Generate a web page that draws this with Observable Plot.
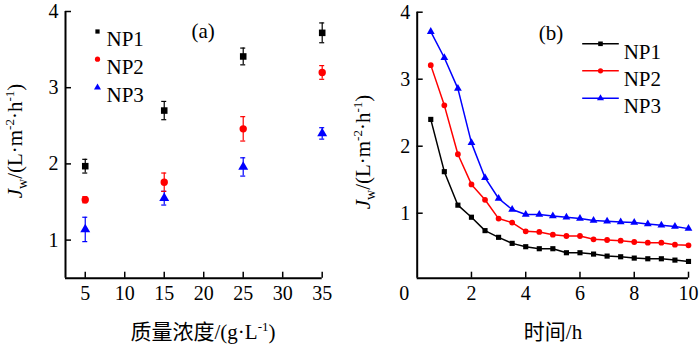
<!DOCTYPE html>
<html>
<head>
<meta charset="utf-8">
<script src="https://cdn.jsdelivr.net/npm/d3@7"></script>
<script src="https://cdn.jsdelivr.net/npm/@observablehq/plot@0.6"></script>
<style>
  body { margin: 0; background: #fff; }
  #wrap { display: flex; width: 700px; height: 345px; }
  #wrap svg { display: block; }
</style>
</head>
<body>
<div id="wrap"></div>
<script>
// ---------- data ----------
const series = ["NP1", "NP2", "NP3"];
const seriesColors = ["#000000", "#ff0000", "#0000ff"];
const seriesSymbols = ["square", "circle", "triangle"];

// panel (a): flux vs mass concentration, with error bars
const concentration = [5, 15, 25, 35];
const fluxA_NP1 = [1.97, 2.70, 3.41, 3.72];
const fluxA_NP2 = [1.53, 1.76, 2.46, 3.20];
const fluxA_NP3 = [1.14, 1.55, 1.96, 2.40];
const errA_NP1 = [0.09, 0.12, 0.11, 0.13];
const errA_NP2 = [0.04, 0.12, 0.16, 0.09];
const errA_NP3 = [0.16, 0.09, 0.12, 0.075];

// panel (b): flux vs time
const time = [0.5, 1, 1.5, 2, 2.5, 3, 3.5, 4, 4.5, 5, 5.5, 6, 6.5, 7, 7.5, 8, 8.5, 9, 9.5, 10];
const fluxB_NP1 = [2.40, 1.62, 1.12, 0.94, 0.74, 0.64, 0.55, 0.50, 0.47, 0.47, 0.41, 0.41, 0.39, 0.36, 0.35, 0.33, 0.32, 0.32, 0.30, 0.28];
const fluxB_NP2 = [3.21, 2.61, 1.88, 1.43, 1.20, 0.92, 0.86, 0.73, 0.72, 0.68, 0.66, 0.66, 0.61, 0.60, 0.59, 0.57, 0.56, 0.56, 0.53, 0.52];
const fluxB_NP3 = [3.71, 3.32, 2.86, 2.05, 1.53, 1.22, 1.055, 0.98, 0.98, 0.96, 0.94, 0.92, 0.89, 0.88, 0.87, 0.86, 0.84, 0.82, 0.80, 0.77];

// axes
const xDomainA = [2.5, 35];
const yDomainA = [0.5, 4];
const xTicksA = [5, 10, 15, 20, 25, 30, 35];
const yTicksA = [1, 2, 3, 4];
const xDomainB = [0, 10];
const yDomainB = [0.03, 4];
const xTicksB = [2, 4, 6, 8, 10];
const xOriginLabelB = [0];
const yTicksB = [1, 2, 3, 4];
const panelLabels = ["(a)", "(b)"];
const xLabelA = ["质量浓度/(g·L", "-1", ")"];
const xLabelB = "时间/h";

// ---------- tables ----------
const fluxA = [fluxA_NP1, fluxA_NP2, fluxA_NP3];
const errA = [errA_NP1, errA_NP2, errA_NP3];
const rowsA = series.flatMap((s, i) => concentration.map((c, j) => ({series: s, x: c, y: fluxA[i][j], e: errA[i][j]})));
const fluxB = [fluxB_NP1, fluxB_NP2, fluxB_NP3];
const rowsB = series.flatMap((s, i) => time.map((t, j) => ({series: s, x: t, y: fluxB[i][j]})));

const font = "\"Liberation Serif\", Tinos, \"DejaVu Serif\", serif, \"Noto Sans CJK SC\"";
const W = 350, H = 345;
const fmt = d3.format("d");

function yLabel(svg, x, y) {
  const t = d3.select(svg).append("text")
    .attr("transform", `translate(${x},${y}) rotate(-90)`)
    .attr("text-anchor", "middle")
    .style("font-family", font).attr("font-size", 21).attr("fill", "#000");
  t.append("tspan").attr("font-style", "italic").text("J");
  t.append("tspan").attr("font-size", 14).attr("dy", 5).text("w");
  t.append("tspan").attr("dy", -5).text("/(L·m");
  t.append("tspan").attr("font-size", 13).attr("dy", -8).text("-2");
  t.append("tspan").attr("dy", 8).text("·h");
  t.append("tspan").attr("font-size", 13).attr("dy", -8).text("-1");
  t.append("tspan").attr("dy", 8).text(")");
}

// ---------- panel (a) ----------
const mA = {top: 11, bottom: 67.3, left: 65, right: 28.3};
const innerWA = W - mA.left - mA.right, innerHA = H - mA.top - mA.bottom;
const legendDyA = [20, 47.7, 76];
const legendRA = [2.4, 2.6, 2.6];

const plotA = Plot.plot({
  width: W, height: H,
  marginTop: mA.top, marginBottom: mA.bottom, marginLeft: mA.left, marginRight: mA.right,
  style: {fontFamily: font, fontSize: "20px", color: "#000", background: "transparent", overflow: "visible"},
  x: {domain: xDomainA, ticks: xTicksA, tickFormat: fmt, tickSize: 0, tickPadding: 8, label: null},
  y: {domain: yDomainA, ticks: yTicksA, tickFormat: fmt, tickSize: 0, tickPadding: 7, label: null},
  color: {domain: series, range: seriesColors},
  symbol: {domain: series, range: seriesSymbols},
  marks: [
    Plot.tickX(xTicksA, {x: d => d, insetTop: innerHA - 6, strokeWidth: 1.5}),
    Plot.tickY(yTicksA, {y: d => d, insetRight: innerWA - 6, strokeWidth: 1.5}),
    Plot.ruleX([xDomainA[0]], {strokeWidth: 2}),
    Plot.ruleY([yDomainA[0]], {strokeWidth: 2}),
    Plot.ruleX(rowsA, {x: "x", y1: d => d.y - d.e, y2: d => d.y + d.e, stroke: "series", strokeWidth: 1.2}),
    Plot.ruleY(rowsA, {y: d => d.y + d.e, x1: "x", x2: "x", insetLeft: -2.5, insetRight: -2.5, stroke: "series", strokeWidth: 1.2}),
    Plot.ruleY(rowsA, {y: d => d.y - d.e, x1: "x", x2: "x", insetLeft: -2.5, insetRight: -2.5, stroke: "series", strokeWidth: 1.2}),
    Plot.dot(rowsA, {x: "x", y: "y", symbol: "series", fill: "series", stroke: null, r: 3.7}),
    ...series.map((s, i) => Plot.dot([s], {x: null, y: null, frameAnchor: "top-left", dx: 32, dy: legendDyA[i], symbol: seriesSymbols[i], fill: seriesColors[i], r: legendRA[i]})),
    ...series.map((s, i) => Plot.text([s], {x: null, y: null, frameAnchor: "top-left", dx: 41, dy: legendDyA[i], text: d => d, textAnchor: "start", fontSize: 21, fill: "#000"})),
    Plot.text([panelLabels[0]], {x: null, y: null, frameAnchor: "top-left", dx: 126, dy: 12, text: d => d, fontSize: 21, fill: "#000"})
  ]
});
yLabel(plotA, 22, 141);
{
  const t = d3.select(plotA).append("text").attr("x", 203).attr("y", 339)
    .attr("text-anchor", "middle").style("font-family", font).attr("font-size", 21).attr("fill", "#000");
  t.append("tspan").text(xLabelA[0]);
  t.append("tspan").attr("font-size", 13).attr("dy", -8).text(xLabelA[1]);
  t.append("tspan").attr("dy", 8).text(xLabelA[2]);
}

// ---------- panel (b) ----------
const mB = {top: 11.7, bottom: 67.3, left: 66.7, right: 12};
const innerWB = W - mB.left - mB.right, innerHB = H - mB.top - mB.bottom;
const legendDyB = [31.6, 58.6, 86];
const lineSymbol = {draw(ctx) { ctx.moveTo(-18.3, 0); ctx.lineTo(18.3, 0); }};

const plotB = Plot.plot({
  width: W, height: H,
  marginTop: mB.top, marginBottom: mB.bottom, marginLeft: mB.left, marginRight: mB.right,
  style: {fontFamily: font, fontSize: "20px", color: "#000", background: "transparent", overflow: "visible"},
  x: {domain: xDomainB, ticks: xTicksB, tickFormat: fmt, tickSize: 0, tickPadding: 8, label: null},
  y: {domain: yDomainB, ticks: yTicksB, tickFormat: fmt, tickSize: 0, tickPadding: 7, label: null},
  color: {domain: series, range: seriesColors},
  symbol: {domain: series, range: seriesSymbols},
  marks: [
    Plot.tickX(xTicksB, {x: d => d, insetTop: innerHB - 6, strokeWidth: 1.5}),
    Plot.tickY(yTicksB, {y: d => d, insetRight: innerWB - 6, strokeWidth: 1.5}),
    Plot.ruleX([xDomainB[0]], {strokeWidth: 2}),
    Plot.ruleY([yDomainB[0]], {strokeWidth: 2}),
    Plot.text(xOriginLabelB, {x: d => d, frameAnchor: "bottom", lineAnchor: "top", dy: 8, dx: -13, text: d => String(d), fontSize: 20, fill: "#000"}),
    Plot.line(rowsB, {x: "x", y: "y", z: "series", stroke: "series", strokeWidth: 1.5}),
    Plot.dot(rowsB, {x: "x", y: "y", symbol: "series", fill: "series", stroke: null, r: 2.9}),
    ...series.map((s, i) => Plot.dot([s], {x: null, y: null, frameAnchor: "top-left", dx: 183.3, dy: legendDyB[i], symbol: lineSymbol, fill: "none", stroke: seriesColors[i], strokeWidth: 1.5})),
    ...series.map((s, i) => Plot.dot([s], {x: null, y: null, frameAnchor: "top-left", dx: 183.3, dy: legendDyB[i], symbol: seriesSymbols[i], fill: seriesColors[i], stroke: null, r: 2.6})),
    ...series.map((s, i) => Plot.text([s], {x: null, y: null, frameAnchor: "top-left", dx: 206.5, dy: legendDyB[i], text: d => d, textAnchor: "start", fontSize: 21, fill: "#000"})),
    Plot.text([panelLabels[1]], {x: null, y: null, frameAnchor: "top-left", dx: 121.5, dy: 12.5, text: d => d, fontSize: 21, fill: "#000"})
  ]
});
yLabel(plotB, 19.5, 152);
d3.select(plotB).append("text").attr("x", 203).attr("y", 339)
  .attr("text-anchor", "middle").style("font-family", font).attr("font-size", 21).attr("fill", "#000")
  .text(xLabelB);

document.getElementById("wrap").append(plotA, plotB);
</script>
</body>
</html>
